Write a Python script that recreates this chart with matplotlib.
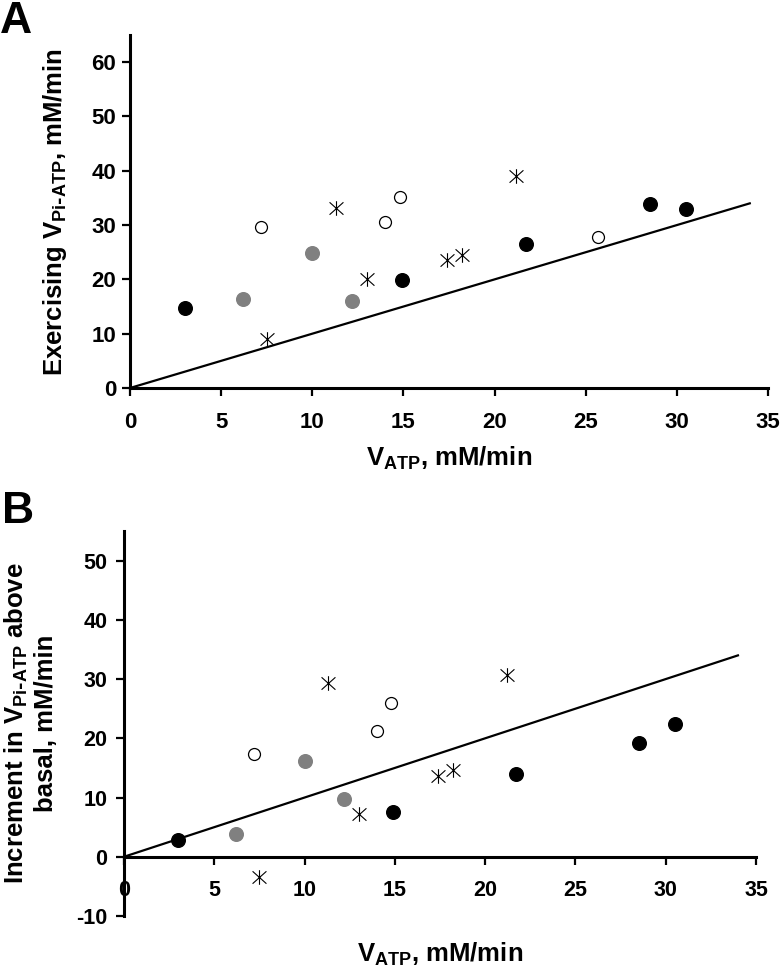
import numpy as np
import matplotlib
matplotlib.use("Agg")
import matplotlib.pyplot as plt
from matplotlib.path import Path

plt.rcParams['font.family'] = ['Liberation Sans', 'DejaVu Sans']
plt.rcParams['font.weight'] = 'bold'
plt.rcParams['mathtext.default'] = 'regular'
plt.rcParams['axes.unicode_minus'] = False

# V_ATP (mM/min), same subjects in both panels
black_x = [3.0, 14.9, 21.7, 28.5, 30.5]
gray_x = [6.2, 10.0, 12.2]
open_x = [7.2, 14.0, 14.8, 25.7]
star_x = [7.5, 11.3, 13.0, 17.4, 18.2, 21.2]

# panel A: exercising V_Pi-ATP
a_black = [14.7, 19.8, 26.6, 33.9, 33.0]
a_gray = [16.3, 24.8, 16.1]
a_open = [29.6, 30.5, 35.1, 27.8]
a_star = [9.0, 33.1, 20.0, 23.5, 24.5, 39.0]

# panel B: increment above basal
b_black = [2.8, 7.5, 14.0, 19.2, 22.4]
b_gray = [3.9, 16.1, 9.8]
b_open = [17.4, 21.3, 26.0]
b_star = [-3.4, 29.4, 7.2, 13.7, 14.7, 30.7]

# line of identity
line_x = [0, 34]
line_y = [0, 34]

xticks = [0, 5, 10, 15, 20, 25, 30, 35]
a_yticks = [0, 10, 20, 30, 40, 50, 60]
b_yticks = [-10, 0, 10, 20, 30, 40, 50]

# asterisk: vertical bar plus an X
star = Path([(0, -1), (0, 1), (-0.95, -0.85), (0.95, 0.85), (-0.95, 0.85), (0.95, -0.85)],
            [Path.MOVETO, Path.LINETO, Path.MOVETO, Path.LINETO, Path.MOVETO, Path.LINETO])

W, H = 780, 971
fig = plt.figure(figsize=(W / 100, H / 100), dpi=100)

def px(x0, y0, x1, y1):
    # pixel box (left, top, right, bottom) -> figure fraction
    return [x0 / W, 1 - y1 / H, (x1 - x0) / W, (y1 - y0) / H]

axA = fig.add_axes(px(130, 35, 768, 388))
axB = fig.add_axes(px(124, 531, 756, 916))

def draw(ax, by, gy, oy, sy, ox):
    ax.plot(line_x, line_y, color='black', lw=1.6, zorder=2)
    ax.plot(black_x, by, 'o', ms=9.8, mfc='black', mec='black', zorder=3)
    ax.plot(gray_x, gy, 'o', ms=9.8, mfc='#808080', mec='#808080', zorder=3)
    ax.plot(ox, oy, 'o', ms=8.6, mfc='white', mec='black', mew=0.9, zorder=3)
    ax.plot(star_x, sy, ls='none', marker=star, ms=10.5, mfc='none', mec='black', mew=0.8, zorder=3)
    for s in ['top', 'right']:
        ax.spines[s].set_visible(False)
    for s in ['left', 'bottom']:
        ax.spines[s].set_linewidth(2.2)
    ax.set_xlim(0, 35)
    ax.set_xticks(xticks)
    ax.tick_params(width=1.6, length=6, direction='out')

draw(axA, a_black, a_gray, a_open, a_star, open_x)
axA.set_ylim(0, 65)
axA.set_yticks(a_yticks)
axA.tick_params(axis='x', pad=11, labelsize=16)
axA.tick_params(axis='y', pad=4, labelsize=16)
axA.set_xlabel(r'V$_{ATP}$, mM/min', fontsize=18.5, fontweight='bold')
axA.xaxis.set_label_coords(0.5, -0.16)
axA.set_ylabel(r'Exercising V$_{Pi\text{-}ATP}$, mM/min', fontsize=18.5, fontweight='bold')
axA.yaxis.set_label_coords(-0.095, 0.5)

draw(axB, b_black, b_gray, b_open, b_star, open_x[:3])
axB.set_ylim(-10, 55)
axB.set_yticks(b_yticks)
axB.spines['bottom'].set_position(('data', 0))
axB.tick_params(axis='x', pad=11, labelsize=15.5)
axB.tick_params(axis='y', pad=6, labelsize=15.5)
axB.set_xlabel(r'V$_{ATP}$, mM/min', fontsize=18.5, fontweight='bold')
axB.xaxis.set_label_coords(0.5, -0.065)
axB.set_ylabel('Increment in V$_{Pi\\text{-}ATP}$ above\nbasal, mM/min', fontsize=18.5,
               fontweight='bold', multialignment='center', linespacing=1.25)
axB.yaxis.set_label_coords(-0.104, 0.5)

fig.text(0, 1 - 33 / H, 'A', fontsize=32, fontweight='bold', va='baseline', ha='left')
fig.text(2 / W, 1 - 523 / H, 'B', fontsize=32, fontweight='bold', va='baseline', ha='left')

fig.savefig('out.png', dpi=100)
